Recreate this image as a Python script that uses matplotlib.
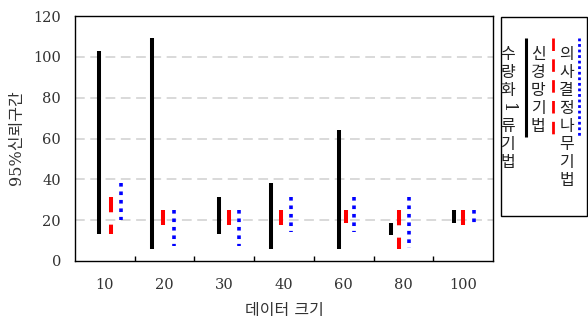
import matplotlib as mpl

mpl.use("Agg")

import matplotlib.pyplot as plt
from matplotlib.lines import Line2D
from matplotlib.patches import Rectangle

plt.rcParams["lines.scale_dashes"] = False
FONTS = ["DejaVu Serif", "Noto Sans CJK KR"]

# data: 95% confidence interval (low, high) per data size and method
sizes = ["10", "20", "30", "40", "60", "80", "100"]
methods = ["수량화1류기법", "신경망기법", "의사결정나무기법"]
low = {
    "수량화1류기법": [13, 6, 13, 6, 6, 12.7, 18.8],
    "신경망기법": [13, 17.5, 17.5, 17.5, 18.8, 6, 17.5],
    "의사결정나무기법": [20, 7.5, 7.5, 14.3, 14.3, 6.5, 18.8],
}
high = {
    "수량화1류기법": [103, 109.3, 31.5, 38.2, 64, 18.7, 25],
    "신경망기법": [31.5, 25, 25, 25, 25, 25, 25],
    "의사결정나무기법": [38.2, 25, 25, 31.5, 31.5, 31.5, 25],
}

# layout: where each method's bar sits inside its group (fraction of group width)
offsets = {
    "수량화1류기법": [0.41, 0.29, 0.41, 0.29, 0.42, 0.29, 0.34],
    "신경망기법": [0.60, 0.47, 0.58, 0.45, 0.54, 0.42, 0.50],
    "의사결정나무기법": [0.77, 0.66, 0.74, 0.61, 0.68, 0.59, 0.69],
}
styles = {
    "수량화1류기법": dict(color="black", lw=2.9, ls="-"),
    "신경망기법": dict(color="#ff0000", lw=2.9, ls=(0, (11, 8.9))),
    "의사결정나무기법": dict(color="#0000ff", lw=2.6, ls=(0, (2.6, 3.5))),
}
legend_styles = {
    "수량화1류기법": dict(color="black", lw=2.2, ls="-"),
    "신경망기법": dict(color="#ff0000", lw=2.0, ls=(0, (9, 6))),
    "의사결정나무기법": dict(color="#0000ff", lw=2.0, ls=(0, (2.0, 2.0))),
}

W, H = 588, 322
fig = plt.figure(figsize=(W / 100, H / 100), dpi=100)
ax = fig.add_axes([75 / W, 1 - 261 / H, 418 / W, 245 / H])

for m in methods:
    for g in range(len(sizes)):
        x = g + offsets[m][g]
        ax.plot([x, x], [high[m][g], low[m][g]], solid_capstyle="butt",
                dash_capstyle="butt", zorder=3, **styles[m])

ax.set_xlim(0, len(sizes))
ax.set_ylim(0, 120)
ax.set_yticks(range(0, 121, 20))
ax.set_xticks(range(1, len(sizes)))
ax.set_xticklabels([])
ax.set_xticks([g + 0.5 for g in range(len(sizes))], minor=True)
ax.set_xticklabels(sizes, minor=True)
ax.tick_params(axis="x", which="major", direction="in", length=3.6, width=1, color="black")
ax.tick_params(axis="x", which="minor", length=0, pad=12)
ax.tick_params(axis="y", length=0, pad=10)
for lab in ax.get_xticklabels(minor=True) + ax.get_yticklabels():
    lab.set_family(FONTS)
    lab.set_fontsize(10.5)
    lab.set_color("#333333")
for y in range(20, 101, 20):
    ax.axhline(y, color="#d0d0d0", lw=1.1, ls=(0, (7, 4)), zorder=1)
for sp in ax.spines.values():
    sp.set_linewidth(1.0)

fig.text(17 / W, 1 - 138 / H, "95%신뢰구간", rotation=90, ha="center", va="center",
         family=FONTS, fontsize=11.5, color="#333333")
fig.text(284 / W, 1 - 311 / H, "데이터 크기", ha="center", va="center",
         family=FONTS, fontsize=11.5, color="#333333")

# vertical legend box on the right
fig.patches.append(Rectangle((500.7 / W, 1 - 216 / H), 86 / W, 198.7 / H,
                             transform=fig.transFigure, fill=False, lw=1.0, ec="black"))
text_x = [507.5, 538, 566.7]
line_x = [525.5, 552.5, 579.3]
for m, tx, lx in zip(methods, text_x, line_x):
    fig.add_artist(Line2D([lx / W, lx / W], [1 - 38 / H, 1 - 137 / H], transform=fig.transFigure,
                          solid_capstyle="butt", dash_capstyle="butt", **legend_styles[m]))
    for i, ch in enumerate(m):
        fig.text(tx / W, 1 - (54.5 + 18 * i) / H, ch, ha="center", va="center",
                 rotation=-90 if ch.isdigit() else 0, family=FONTS, fontsize=11.5, color="#222222")

fig.savefig("out.png", dpi=100, facecolor="white")
